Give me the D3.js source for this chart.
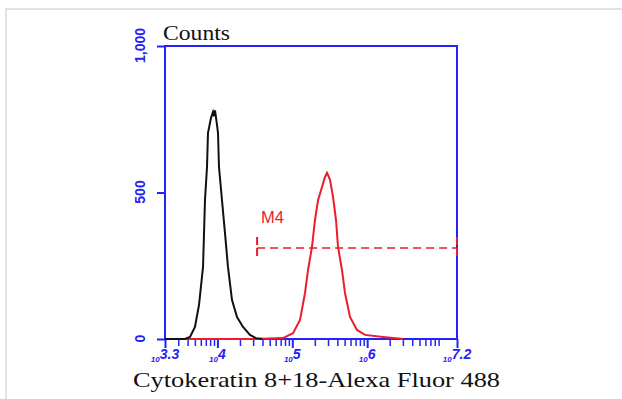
<!DOCTYPE html>
<html>
<head>
<meta charset="utf-8">
<script src="https://cdn.jsdelivr.net/npm/d3@7"></script>
<style>
  body { margin: 0; background: #fff; }
  svg { display: block; }
</style>
</head>
<body>
<svg id="chart" width="622" height="399"></svg>
<script>
// isotype control (black), log10 intensity vs counts
const blackLog = [3.3, 3.567, 3.634, 3.70, 3.754, 3.808, 3.834, 3.861, 3.874, 3.914, 3.941, 3.955, 3.968, 3.995, 4.008, 4.021, 4.061, 4.101, 4.141, 4.195, 4.262, 4.342, 4.435, 4.515, 4.6]
const blackCount = [0, 0, 7, 41, 116, 246, 474, 587, 703, 754, 775, 760, 780, 730, 703, 587, 474, 362, 246, 133, 75, 41, 14, 3, 0]

// Cytokeratin 8+18 stained (red)
const redLog = [3.3, 4.5, 4.876, 5.01, 5.103, 5.17, 5.21, 5.263, 5.303, 5.344, 5.397, 5.437, 5.464, 5.504, 5.544, 5.584, 5.611, 5.664, 5.704, 5.771, 5.864, 5.971, 6.212, 6.479]
const redCount = [0, 0, 3, 20, 65, 157, 235, 314, 406, 474, 519, 553, 567, 543, 485, 406, 314, 235, 157, 75, 31, 14, 7, 0]

// gate M4
const gateName = "M4"
const gateLog = [4.53, 7.2]
const gateLevel = 311

const xDomainLog = [3.3, 7.2]
const majorExp = [3.3, 4, 5, 6, 7.2]
const yTicks = [0, 500, 1000]

const blue = "#2323f5"
const red = "#ec1c2a"

const svg = d3.select("#chart")

// light outer frame
svg.append("path")
    .attr("d", "M6,399 V9 H622")
    .attr("fill", "none")
    .attr("stroke", "#e2e2e2")
    .attr("stroke-width", 2)

const x = d3.scaleLog()
    .domain(xDomainLog.map(e => Math.pow(10, e)))
    .range([165, 457])
const y = d3.scaleLinear()
    .domain([0, 1000])
    .range([339, 46])

// minor ticks 2..9 per decade
let minor = []
for (let d = 3; d <= 7; d++) {
    for (let k = 2; k <= 9; k++) {
        let v = k * Math.pow(10, d)
        if (v > x.domain()[0] * 1.01 && v < x.domain()[1]) minor.push(v)
    }
}

const xMinor = svg.append("g")
    .attr("transform", "translate(0,339)")
    .call(d3.axisBottom(x).tickValues(minor).tickSize(7).tickSizeOuter(0).tickFormat(""))
xMinor.select(".domain").remove()
xMinor.selectAll("line").attr("stroke", blue).attr("stroke-width", 1.5)

const xMajor = svg.append("g")
    .attr("transform", "translate(0,339)")
    .call(d3.axisBottom(x).tickValues(majorExp.map(e => Math.pow(10, e))).tickSize(9).tickSizeOuter(0).tickFormat(""))
xMajor.select(".domain").remove()
xMajor.selectAll("line").attr("stroke", blue).attr("stroke-width", 2)

// x tick labels as 10^n
svg.append("g").selectAll("text")
    .data(majorExp)
    .join("text")
    .attr("x", d => x(Math.pow(10, d)))
    .attr("y", 362)
    .attr("text-anchor", "middle")
    .attr("fill", blue)
    .attr("font-family", "Liberation Sans, Arial, sans-serif")
    .attr("font-weight", "bold")
    .attr("font-style", "italic")
    .each(function (d) {
        const t = d3.select(this)
        t.append("tspan").attr("font-size", 8).text("10")
        t.append("tspan").attr("font-size", 14).attr("dy", -3).text(String(d))
    })

// y axis
const yAxis = svg.append("g")
    .attr("transform", "translate(165,0)")
    .call(d3.axisLeft(y).tickValues(yTicks).tickSize(8).tickSizeOuter(0).tickFormat(d3.format(",")))
yAxis.select(".domain").remove()
yAxis.selectAll("line").attr("stroke", blue).attr("stroke-width", 2)
yAxis.selectAll("text")
    .attr("fill", blue)
    .attr("font-family", "Liberation Sans, Arial, sans-serif")
    .attr("font-weight", "bold")
    .attr("font-size", 14)
    .attr("text-anchor", "middle")
    .attr("x", 0)
    .attr("y", 0)
    .attr("dy", null)
    .attr("transform", "translate(-20,-1) rotate(-90)")

// plot frame
svg.append("rect")
    .attr("x", 165).attr("y", 46)
    .attr("width", 457 - 165).attr("height", 339 - 46)
    .attr("fill", "none")
    .attr("stroke", blue)
    .attr("stroke-width", 2)

// curves
const line = d3.line()
    .x(d => x(Math.pow(10, d[0])))
    .y(d => y(d[1]))

svg.append("path")
    .datum(redLog.map((v, i) => [v, redCount[i]]))
    .attr("d", line)
    .attr("fill", "none")
    .attr("stroke", red)
    .attr("stroke-width", 2)

svg.append("path")
    .datum(blackLog.map((v, i) => [v, blackCount[i]]))
    .attr("d", line)
    .attr("fill", "none")
    .attr("stroke", "#111")
    .attr("stroke-width", 2)

// gate
const gx0 = x(Math.pow(10, gateLog[0]))
const gx1 = x(Math.pow(10, gateLog[1]))
const gy = y(gateLevel)
svg.append("line")
    .attr("x1", gx0).attr("x2", gx1)
    .attr("y1", gy).attr("y2", gy)
    .attr("stroke", red).attr("stroke-width", 1.5)
    .attr("stroke-dasharray", "8,5")
svg.selectAll(".cap")
    .data([gx0, gx1])
    .join("line")
    .attr("x1", d => d).attr("x2", d => d)
    .attr("y1", gy - 11).attr("y2", gy + 11)
    .attr("stroke", red).attr("stroke-width", 2)
    .attr("stroke-dasharray", "8,3")
svg.append("text")
    .attr("x", gx0 + 4)
    .attr("y", gy - 25)
    .attr("fill", red)
    .attr("font-family", "Liberation Sans, Arial, sans-serif")
    .attr("font-size", 17)
    .attr("textLength", 23)
    .attr("lengthAdjust", "spacingAndGlyphs")
    .text(gateName)

// titles
svg.append("text")
    .attr("x", 163).attr("y", 40)
    .attr("font-family", "Liberation Serif, serif")
    .attr("font-size", 21)
    .attr("textLength", 67)
    .attr("lengthAdjust", "spacingAndGlyphs")
    .attr("fill", "#111")
    .text("Counts")

svg.append("text")
    .attr("x", 133).attr("y", 387)
    .attr("font-family", "Liberation Serif, serif")
    .attr("font-size", 21)
    .attr("textLength", 367)
    .attr("lengthAdjust", "spacingAndGlyphs")
    .attr("fill", "#111")
    .text("Cytokeratin 8+18-Alexa Fluor 488")
</script>
</body>
</html>
